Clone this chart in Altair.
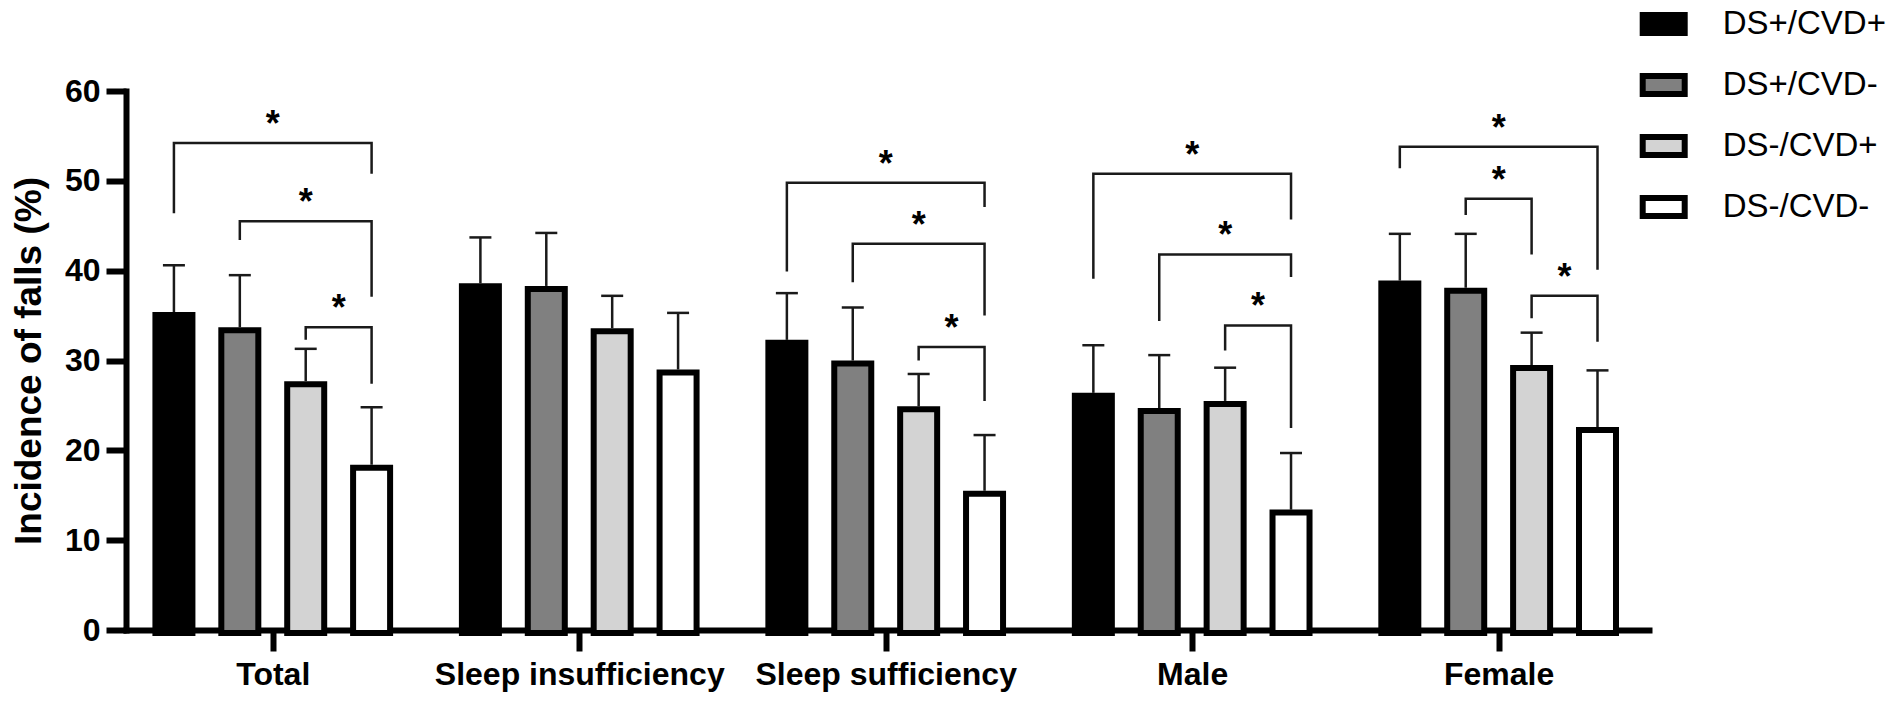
import altair as alt
import pandas as pd

# ---------------- data ----------------
groups = ["Total", "Sleep insufficiency", "Sleep sufficiency", "Male", "Female"]
series = ["DS+/CVD+", "DS+/CVD-", "DS-/CVD+", "DS-/CVD-"]
fills = ["#000000", "#808080", "#d3d3d3", "#ffffff"]

mean_ds_p_cvd_p = [35.4, 38.6, 32.3, 26.4, 38.9]
mean_ds_p_cvd_m = [33.7, 38.3, 30.0, 24.7, 38.1]
mean_ds_m_cvd_p = [27.7, 33.6, 24.9, 25.5, 29.5]
mean_ds_m_cvd_m = [18.4, 29.0, 15.5, 13.4, 22.6]

upper_ds_p_cvd_p = [40.6, 43.7, 37.5, 31.7, 44.1]
upper_ds_p_cvd_m = [39.5, 44.2, 35.9, 30.6, 44.1]
upper_ds_m_cvd_p = [31.3, 37.2, 28.5, 29.2, 33.1]
upper_ds_m_cvd_m = [24.8, 35.3, 21.7, 19.7, 28.9]

# significance brackets
br_group = ["Total"] * 3 + ["Sleep sufficiency"] * 3 + ["Male"] * 3 + ["Female"] * 3
br_from = ["DS+/CVD+", "DS+/CVD-", "DS-/CVD+"] * 3 + ["DS+/CVD+", "DS+/CVD-", "DS-/CVD+"]
br_to = ["DS-/CVD-"] * 9 + ["DS-/CVD-", "DS-/CVD+", "DS-/CVD-"]
br_top = [54.2, 45.5, 33.7, 49.8, 43.0, 31.5, 50.8, 41.8, 33.9, 53.8, 48.0, 37.2]
br_left_end = [46.4, 43.4, 32.3, 39.9, 38.7, 30.0, 39.1, 34.4, 31.1, 51.4, 46.2, 34.7]
br_right_end = [50.8, 37.1, 27.4, 47.1, 35.0, 25.5, 45.7, 39.3, 22.5, 40.1, 41.8, 32.1]
br_label = ["*"] * 12

# ---------------- build tables ----------------
BAR_STEP = 0.215  # spacing of bars inside a group, in group units
means = [mean_ds_p_cvd_p, mean_ds_p_cvd_m, mean_ds_m_cvd_p, mean_ds_m_cvd_m]
uppers = [upper_ds_p_cvd_p, upper_ds_p_cvd_m, upper_ds_m_cvd_p, upper_ds_m_cvd_m]


def pos(group, s):
    return groups.index(group) + (series.index(s) - 1.5) * BAR_STEP


rows = []
for si, s in enumerate(series):
    for gi, g in enumerate(groups):
        rows.append({"group": g, "series": s, "pos": pos(g, s),
                     "mean": means[si][gi], "upper": uppers[si][gi]})
bars = pd.DataFrame(rows)

line_rows, star_rows = [], []
for i in range(len(br_group)):
    xa, xb = pos(br_group[i], br_from[i]), pos(br_group[i], br_to[i])
    pts = [(xa, br_left_end[i]), (xa, br_top[i]), (xb, br_top[i]), (xb, br_right_end[i])]
    for k, (px, py) in enumerate(pts):
        line_rows.append({"id": i, "k": k, "pos": px, "val": py})
    star_rows.append({"pos": (xa + xb) / 2, "val": br_top[i], "label": br_label[i]})
brackets = pd.DataFrame(line_rows)
stars = pd.DataFrame(star_rows)

FONT = "Liberation Sans"
W, H = 1523, 539
x_scale = alt.Scale(domain=[-142.7 / 308.5, (W - 142.7) / 308.5], nice=False, zero=False)
y_scale = alt.Scale(domain=[0, 60], nice=False)

label_expr = "[" + ",".join("'" + g + "'" for g in groups) + "][datum.value]"

x_enc = alt.X("pos:Q", scale=x_scale, title=None,
              axis=alt.Axis(values=list(range(len(groups))), labelExpr=label_expr,
                            grid=False, domainWidth=6, domainColor="black", domainCap="square",
                            tickWidth=6, tickColor="black", tickSize=21,
                            labelFont=FONT, labelFontSize=32, labelFontWeight="bold",
                            labelColor="black", labelPadding=8, labelFlush=False,
                            labelOverlap=False, labelLimit=0))
y_enc = alt.Y("mean:Q", scale=y_scale,
              axis=alt.Axis(values=[0, 10, 20, 30, 40, 50, 60], grid=False,
                            domainWidth=6, domainColor="black", domainCap="square",
                            tickWidth=6, tickColor="black", tickSize=20,
                            labelFont=FONT, labelFontSize=32, labelFontWeight="bold",
                            labelColor="black", labelPadding=6,
                            title="Incidence of falls (%)", titleFont=FONT,
                            titleFontSize=37, titleFontWeight="bold", titleColor="black",
                            titleAngle=270, titleX=-86, titleY=H / 2,
                            titleBaseline="alphabetic", titleAlign="center"))

legend = alt.Legend(title=None, orient="none", legendX=1513.7, legendY=-91,
                    symbolType="M-1,-0.4286H1V0.4286H-1Z", symbolSize=1764,
                    symbolStrokeColor="black", symbolStrokeWidth=6,
                    labelFont=FONT, labelFontSize=33, labelColor="black",
                    labelOffset=35, rowPadding=15, padding=0, labelLimit=0)

bar_layer = alt.Chart(bars).mark_bar(
    orient="vertical", size=37, stroke="black", strokeWidth=6, yOffset=3, y2Offset=-3
).encode(
    x=x_enc,
    y=y_enc,
    fill=alt.Fill("series:N", scale=alt.Scale(domain=series, range=fills), legend=legend),
)

err_line = alt.Chart(bars).mark_rule(color="#1a1a1a", strokeWidth=2.5).encode(
    x=alt.X("pos:Q", scale=x_scale), y=alt.Y("mean:Q", scale=y_scale), y2="upper:Q"
)
err_cap = alt.Chart(bars).mark_tick(orient="horizontal", size=22, thickness=2.5,
                                    color="#1a1a1a", opacity=1).encode(
    x=alt.X("pos:Q", scale=x_scale), y=alt.Y("upper:Q", scale=y_scale)
)

bracket_layer = alt.Chart(brackets).mark_line(
    color="#1a1a1a", strokeWidth=2.5, strokeCap="butt", strokeJoin="miter"
).encode(
    x=alt.X("pos:Q", scale=x_scale), y=alt.Y("val:Q", scale=y_scale),
    detail="id:N", order="k:Q"
)

star_layer = alt.Chart(stars).mark_text(
    font=FONT, fontSize=36, fontWeight="bold", baseline="alphabetic", dy=-7, color="black"
).encode(
    x=alt.X("pos:Q", scale=x_scale), y=alt.Y("val:Q", scale=y_scale), text="label:N"
)

chart = alt.layer(err_line, err_cap, bar_layer, bracket_layer, star_layer).properties(
    width=W, height=H,
    autosize=alt.AutoSizeParams(type="none"),
    padding={"left": 118, "top": 83, "right": 245, "bottom": 64},
    background="white",
).configure_view(stroke=None)

chart.save("out.html", embed_options={"renderer": "svg", "actions": False})
